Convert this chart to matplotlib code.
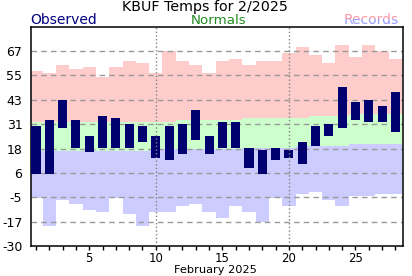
import numpy as np
import matplotlib
matplotlib.use("Agg")
import matplotlib.pyplot as plt
from matplotlib.patches import Rectangle

days = np.arange(1, 29)
obs_high = [30, 33, 43, 33, 25, 35, 34, 31, 30, 25, 30, 31, 38, 25, 32, 32, 19, 18,
            19, 18, 22, 30, 31, 50, 42, 43, 40, 47]
obs_low = [6, 6, 29, 19, 17, 19, 19, 19, 22, 14, 13, 16, 23, 16, 19, 19, 9, 6,
           13, 14, 11, 20, 25, 29, 33, 32, 32, 27]
rec_high = [58, 57, 61, 59, 60, 55, 60, 63, 62, 57, 68, 63, 61, 57, 63, 64, 61, 63,
            63, 67, 70, 66, 62, 71, 65, 71, 68, 64]
rec_low = [-6, -20, -7, -9, -12, -13, -6, -14, -20, -13, -13, -10, -9, -13, -16, -10,
           -13, -18, -6, -10, -4, -3, -7, -10, -5, -5, -4, -4]
norm_high = [32, 32, 32, 32, 32, 32, 32, 32, 32, 32, 32, 33, 33, 33, 33, 33, 34, 34,
             34, 34, 34, 35, 35, 35, 36, 36, 36, 36]
norm_low = [17.6, 17.6, 17.6, 17.6, 17.6, 17.6, 17.6, 17.6, 17.6, 18.6, 18.6, 18.6,
            18.6, 18.6, 18.6, 18.6, 19.3, 19.3, 19.3, 19.3, 20.1, 20.1, 20.1, 20.1,
            21.1, 21.1, 21.1, 21.1]
ytick_labels = ["-30", "-17", "-5", "6", "18", "31", "43", "55", "67"]
xtick_labels = ["5", "10", "15", "20", "25"]

W, H = 412, 276
fig = plt.figure(figsize=(W / 100, H / 100), dpi=100)
ax = fig.add_axes([30.7 / W, 1 - 246 / H, 372 / W, (246 - 26.7) / H])

edges = np.arange(0.5, 29.5, 1.0)
ax.stairs(rec_high, edges, baseline=norm_high, fill=True, color="#ffcccc", lw=0, zorder=1)
ax.stairs(norm_high, edges, baseline=norm_low, fill=True, color="#ccffcc", lw=0, zorder=1)
ax.stairs(norm_low, edges, baseline=rec_low, fill=True, color="#ccccff", lw=0, zorder=1)

ypos = np.linspace(-30, 80, 10)[:-1]
for v in ypos[1:]:
    ax.axhline(v, color="#999999", ls=(0, (4, 3)), lw=1.0, zorder=2)

hi = np.array(obs_high)
lo = np.array(obs_low)
ax.bar(days, hi - lo, bottom=lo, width=0.68, color="#000070", lw=0, zorder=3)

for d in (10, 20):
    ax.axvline(d, color="#808080", ls=":", lw=1.0, zorder=4)

ax.set_xlim(0.6, 28.55)
ax.set_ylim(-30, 80)
ax.set_yticks(ypos)
ax.set_yticklabels(ytick_labels, fontsize=9)
ax.tick_params(axis="y", length=0, pad=6)
ax.set_xticks(days)
lab = {int(s): s for s in xtick_labels}
ax.set_xticklabels([lab.get(int(d), "") for d in days], fontsize=8.5)
ax.tick_params(axis="x", length=3, width=1, pad=1.2, direction="out")
for s in ax.spines.values():
    s.set_linewidth(1.1)

fig.text(204.5 / W, 1 - 11.3 / H, "KBUF Temps for 2/2025", ha="center", va="baseline",
         fontsize=10.3, color="black")
fig.text(30.7 / W, 1 - 24.3 / H, "Observed", ha="left", va="baseline", fontsize=10,
         color="#000080")
fig.text(219 / W, 1 - 24.3 / H, "Normals", ha="center", va="baseline", fontsize=9.6,
         color="#1f8a1f")
tp = fig.text(399 / W, 1 - 24.3 / H, "Records", ha="right", va="baseline", fontsize=10,
              color="#ff9aa8")
tb = fig.text(399 / W, 1 - 24.3 / H, "Records", ha="right", va="baseline", fontsize=10,
              color="#9a9aff")
tp.set_clip_path(Rectangle((0, 1 - 18.5 / H), 1, 18.5 / H, transform=fig.transFigure))
tb.set_clip_path(Rectangle((0, 0), 1, 1 - 18.5 / H, transform=fig.transFigure))

fig.text(215 / W, 1 - 273.3 / H, "February 2025", ha="center", va="baseline", fontsize=8.2)

fig.savefig("out.png", dpi=100)
